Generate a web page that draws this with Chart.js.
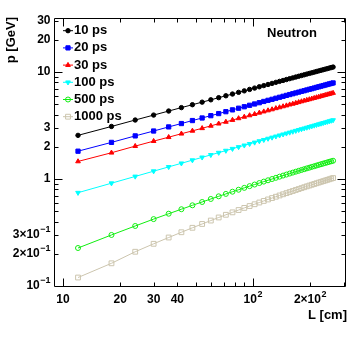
<!DOCTYPE html>
<html><head><meta charset="utf-8">
<script src="https://cdn.jsdelivr.net/npm/chart.js@4.4.1/dist/chart.umd.min.js"></script>
<style>html,body{margin:0;padding:0;background:#fff;}canvas{display:block;}</style>
</head><body>
<canvas id="c" width="356" height="339"></canvas>
<script>
// ---- data ----
const pathLength = [12,18,24,30,36,42,48,54,60,66,72,78,84,90,96,102,108,114,120,126,132,138,144,150,156,162,168,174,180,186,192,198,204,210,216,222,228,234,240,246,252,258,264];
const seriesNames = ['10 ps','20 ps','30 ps','100 ps','500 ps','1000 ps'];
const p10ps = [2.56,3.10,3.56,3.96,4.32,4.65,4.95,5.23,5.50,5.76,6.00,6.23,6.46,6.67,6.88,7.08,7.28,7.47,7.65,7.83,8.01,8.18,8.34,8.51,8.67,8.82,8.98,9.13,9.28,9.42,9.57,9.71,9.84,9.98,10.12,10.25,10.38,10.51,10.64,10.76,10.89,11.01,11.13];
const p20ps = [1.82,2.20,2.53,2.81,3.07,3.30,3.52,3.72,3.91,4.09,4.26,4.43,4.59,4.74,4.89,5.03,5.17,5.31,5.44,5.56,5.69,5.81,5.93,6.05,6.16,6.27,6.38,6.49,6.60,6.69,6.80,6.90,6.99,7.09,7.19,7.28,7.38,7.47,7.56,7.65,7.74,7.82,7.91];
const p30ps = [1.46,1.76,2.03,2.26,2.46,2.65,2.82,2.98,3.14,3.29,3.42,3.56,3.69,3.81,3.93,4.04,4.16,4.27,4.37,4.47,4.58,4.67,4.77,4.86,4.96,5.04,5.13,5.22,5.31,5.39,5.47,5.55,5.63,5.71,5.79,5.86,5.94,6.01,6.09,6.16,6.23,6.30,6.37];
const p100ps = [0.745,0.914,1.057,1.184,1.298,1.403,1.501,1.594,1.681,1.764,1.843,1.919,1.993,2.063,2.132,2.198,2.263,2.325,2.387,2.446,2.504,2.561,2.617,2.671,2.725,2.777,2.829,2.880,2.930,2.978,3.027,3.074,3.121,3.167,3.212,3.257,3.302,3.345,3.388,3.431,3.473,3.515,3.556];
const p500ps = [0.2265,0.300,0.364,0.422,0.474,0.522,0.568,0.610,0.651,0.689,0.726,0.761,0.794,0.827,0.858,0.888,0.917,0.946,0.973,1.000,1.026,1.052,1.077,1.101,1.125,1.148,1.171,1.193,1.215,1.236,1.257,1.277,1.298,1.317,1.337,1.356,1.375,1.394,1.412,1.430,1.448,1.465,1.482];
const p1000ps = [0.120,0.163,0.209,0.248,0.284,0.318,0.350,0.380,0.409,0.437,0.463,0.488,0.513,0.537,0.559,0.581,0.603,0.624,0.644,0.664,0.683,0.702,0.720,0.738,0.756,0.773,0.790,0.806,0.822,0.838,0.854,0.869,0.884,0.898,0.913,0.927,0.941,0.955,0.968,0.982,0.995,1.008,1.021];

const xTickValues = [10,20,30,40,100,200];
const xTickLabels = [['10',''],['20',''],['30',''],['40',''],['10','2'],['2\u00d710','2']];
const yTickValues = [0.1,0.2,0.3,1,2,3,10,20,30];
const yTickLabels = [['10','\u22121'],['2\u00d710','\u22121'],['3\u00d710','\u22121'],['1',''],['2',''],['3',''],['10',''],['20',''],['30','']];
const xTitle = 'L [cm]';
const yTitle = 'p [GeV]';
const panelLabel = 'Neutron';

// ---- styles ----
const FONT = '"Liberation Sans", Arial, Helvetica, sans-serif';
const styles = [
  {color:'#000000', fill:'#000000', style:'circle', r:2.2, rot:0},
  {color:'#0000ff', fill:'#0000ff', style:'rect', r:3.0, rot:0},
  {color:'#ff0000', fill:'#ff0000', style:'triangle', r:2.7, rot:0},
  {color:'#00ffff', fill:'#00ffff', style:'triangle', r:2.7, rot:180},
  {color:'#10ee10', fill:'rgba(0,0,0,0)', style:'circle', r:2.5, rot:0},
  {color:'#ccc5ae', fill:'rgba(0,0,0,0)', style:'rect', r:3.4, rot:0}
];
const seriesValues = [p10ps,p20ps,p30ps,p100ps,p500ps,p1000ps];

const datasets = seriesValues.map((vals,i)=>({
  label: seriesNames[i],
  data: pathLength.map((L,j)=>({x:L, y:vals[j]})),
  borderColor: styles[i].color,
  backgroundColor: styles[i].color,
  borderWidth: 1,
  pointStyle: styles[i].style,
  pointRotation: styles[i].rot,
  pointRadius: styles[i].r,
  pointBackgroundColor: styles[i].fill,
  pointBorderColor: styles[i].color,
  pointBorderWidth: 1,
  tension: 0,
  fill: false
}));

function drawSup(ctx, base, exp, x, y, align){
  ctx.font = 'bold 12px ' + FONT;
  const wb = ctx.measureText(base).width;
  ctx.font = 'bold 9px ' + FONT;
  const we = exp ? ctx.measureText(exp).width + 0.5 : 0;
  let start;
  if (align === 'right') start = x - wb - we;
  else start = x - (wb + we) / 2;
  ctx.textAlign = 'left';
  ctx.textBaseline = 'middle';
  ctx.font = 'bold 12px ' + FONT;
  ctx.fillText(base, start, y);
  if (exp){
    ctx.font = 'bold 9px ' + FONT;
    ctx.fillText(exp, start + wb + 0.5, y - 5);
  }
}

const framePlugin = {
  id: 'framePlugin',
  afterDraw(chart){
    const {ctx, chartArea:a, scales} = chart;
    const xs = scales.x, ys = scales.y;
    ctx.save();
    ctx.strokeStyle = '#000';
    ctx.lineWidth = 1;
    const L = Math.round(a.left)+0.5, R = Math.round(a.right)+0.5, T = Math.round(a.top)+0.5, B = Math.round(a.bottom)+0.5;
    ctx.beginPath();
    ctx.moveTo(L,T); ctx.lineTo(R,T); ctx.lineTo(R,B); ctx.lineTo(L,B); ctx.closePath();
    ctx.stroke();
    // tick marks (inside)
    ctx.beginPath();
    for (let e = -2; e <= 3; e++){
      for (let m = 1; m <= 9; m++){
        const v = m * Math.pow(10, e);
        if (v > xs.min * 1.01 && v < xs.max * 0.995){
          const px = Math.round(xs.getPixelForValue(v)) + 0.5;
          const len = (m === 1) ? 8 : 4;
          ctx.moveTo(px, B); ctx.lineTo(px, B - len);
          ctx.moveTo(px, T); ctx.lineTo(px, T + len);
        }
        if (v > ys.min * 1.01 && v < ys.max * 0.995){
          const py = Math.round(ys.getPixelForValue(v)) + 0.5;
          const len = (m === 1) ? 8 : 4;
          ctx.moveTo(L, py); ctx.lineTo(L + len, py);
          ctx.moveTo(R, py); ctx.lineTo(R - len, py);
        }
      }
    }
    ctx.stroke();
    // tick labels
    ctx.fillStyle = '#000';
    xTickValues.forEach((v,i)=>{
      const px = xs.getPixelForValue(v);
      drawSup(ctx, xTickLabels[i][0], xTickLabels[i][1], px, B + 13.5, 'center');
    });
    yTickValues.forEach((v,i)=>{
      const py = ys.getPixelForValue(v);
      drawSup(ctx, yTickLabels[i][0], yTickLabels[i][1], L - 4, py, 'right');
    });
    // axis titles
    ctx.font = 'bold 13px ' + FONT;
    ctx.textAlign = 'right';
    ctx.textBaseline = 'middle';
    ctx.fillText(xTitle, 347, 315);
    ctx.save();
    ctx.translate(11, 17);
    ctx.rotate(-Math.PI/2);
    ctx.textAlign = 'right';
    ctx.fillText(yTitle, 0, 0);
    ctx.restore();
    // panel label
    ctx.textAlign = 'left';
    ctx.fillText(panelLabel, 267, 33);
    // legend
    chart.data.datasets.forEach((ds,i)=>{
      const yy = 30.7 + 17.2 * i;
      ctx.strokeStyle = ds.borderColor;
      ctx.lineWidth = 1;
      ctx.beginPath(); ctx.moveTo(63, yy); ctx.lineTo(73, yy); ctx.stroke();
      ctx.fillStyle = ds.pointBackgroundColor;
      ctx.strokeStyle = ds.pointBorderColor;
      if (Chart.helpers && Chart.helpers.drawPoint){
        Chart.helpers.drawPoint(ctx, {pointStyle: ds.pointStyle, rotation: ds.pointRotation, radius: ds.pointRadius, borderWidth: 1}, 68, yy);
      }
      ctx.fillStyle = '#000';
      ctx.font = 'bold 13px ' + FONT;
      ctx.textAlign = 'left';
      ctx.textBaseline = 'middle';
      ctx.fillText(ds.label, 74, yy);
    });
    ctx.restore();
  }
};

new Chart(document.getElementById('c'), {
  type: 'line',
  data: { datasets },
  options: {
    responsive: false,
    animation: false,
    devicePixelRatio: 1,
    layout: { padding: { left: 0, right: 11, top: 18, bottom: 0 } },
    plugins: { legend: { display: false }, tooltip: { enabled: false } },
    scales: {
      x: {
        type: 'logarithmic', min: 8.97, max: 305, bounds: 'data',
        grid: { display: false }, border: { display: false },
        ticks: { display: false },
        afterFit(s){ s.height = 53; }
      },
      y: {
        type: 'logarithmic', min: 0.1, max: 32, bounds: 'data',
        grid: { display: false }, border: { display: false },
        ticks: { display: false },
        afterFit(s){ s.width = 54; }
      }
    }
  },
  plugins: [framePlugin]
});
</script>
</body></html>
